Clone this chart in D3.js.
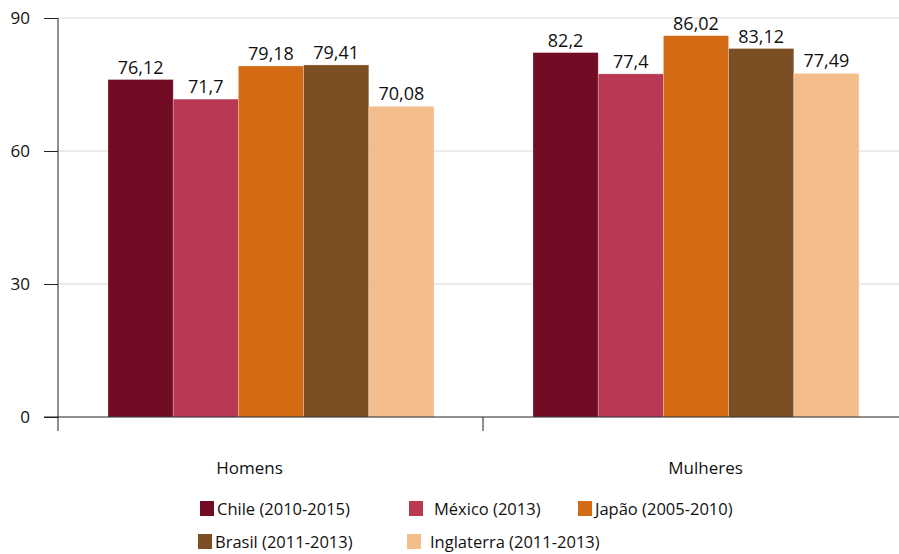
<!DOCTYPE html>
<html><head><meta charset="utf-8">
<script src="https://cdn.jsdelivr.net/npm/d3@7"></script>
<style>body{margin:0;background:#fff;} svg{display:block;font-family:"Open Sans","Noto Sans",sans-serif;}</style>
</head><body>
<svg id="c" width="899" height="554"></svg>
<script>
const categories = ["Homens", "Mulheres"];
const seriesNames = ["Chile (2010-2015)", "México (2013)", "Japão (2005-2010)", "Brasil (2011-2013)", "Inglaterra (2011-2013)"];
const seriesColors = ["#720B24", "#B93854", "#D36B14", "#7B4E24", "#F4BD8C"];
const chileVals = [76.12, 82.2];
const mexicoVals = [71.7, 77.4];
const japaoVals = [79.18, 86.02];
const brasilVals = [79.41, 83.12];
const inglaterraVals = [70.08, 77.49];
const yTicks = [0, 30, 60, 90];

const seriesVals = [chileVals, mexicoVals, japaoVals, brasilVals, inglaterraVals];
const fmt = v => String(v).replace(".", ",");

const svg = d3.select("#c");
const x0 = d3.scaleBand().domain(categories).range([58, 908]).paddingInner(0).paddingOuter(0);
const x1 = d3.scaleBand().domain(seriesNames).range([50, 376]);
const y = d3.scaleLinear().domain([0, 90]).range([417, 18]);

// gridlines
svg.append("g").selectAll("line").data(yTicks.filter(t => t > 0)).join("line")
  .attr("x1", 58).attr("x2", 899).attr("y1", d => y(d)).attr("y2", d => y(d))
  .attr("stroke", "#d9d9d9").attr("stroke-width", 1);

// bars
categories.forEach((cat, ci) => {
  const g = svg.append("g");
  seriesNames.forEach((s, si) => {
    const v = seriesVals[si][ci];
    const bx = x0(cat) + x1(s);
    g.append("rect").attr("x", bx).attr("y", y(v)).attr("width", x1.bandwidth()).attr("height", y(0) - y(v))
      .attr("fill", seriesColors[si]).attr("stroke", "rgba(255,255,255,0.35)").attr("stroke-width", 0.7);
    g.append("text").attr("x", bx + x1.bandwidth() / 2).attr("y", y(v) - 6)
      .attr("text-anchor", "middle").attr("font-size", 18).attr("fill", "#111").text(fmt(v));
  });
});

// y axis
const yAxis = d3.axisLeft(y).tickValues(yTicks).tickSize(14).tickPadding(14).tickFormat(d => d);
const ya = svg.append("g").attr("transform", "translate(58,0)").call(yAxis);
ya.select(".domain").remove();
ya.selectAll("line").attr("stroke", "#222");
ya.selectAll("text").attr("font-size", 17).attr("fill", "#111").attr("font-family", "'Open Sans','Noto Sans',sans-serif");
svg.append("line").attr("x1", 58).attr("x2", 58).attr("y1", 18).attr("y2", 431).attr("stroke", "#222");

// x axis
svg.append("line").attr("x1", 44).attr("x2", 899).attr("y1", y(0)).attr("y2", y(0)).attr("stroke", "#222");
svg.append("line").attr("x1", x0("Mulheres")).attr("x2", x0("Mulheres")).attr("y1", y(0)).attr("y2", 431).attr("stroke", "#222");
const labelOffsets = [-21, 10];
categories.forEach((cat, ci) => {
  svg.append("text").attr("x", x0(cat) + x0.bandwidth() / 2 + labelOffsets[ci]).attr("y", 474)
    .attr("text-anchor", "middle").attr("font-size", 17).attr("fill", "#111").text(cat);
});

// legend
const legendPos = [[200, 509], [409, 509], [578, 509], [198, 542], [407, 542]];
seriesNames.forEach((s, i) => {
  const [lx, ly] = legendPos[i];
  svg.append("rect").attr("x", lx).attr("y", ly - 8).attr("width", 14).attr("height", 15).attr("fill", seriesColors[i]);
  svg.append("text").attr("x", lx + (i === 1 ? 25 : (i === 4 ? 23 : 17))).attr("y", ly + 6)
    .attr("font-size", 16.5).attr("fill", "#111").text(s);
});
</script>
</body></html>
